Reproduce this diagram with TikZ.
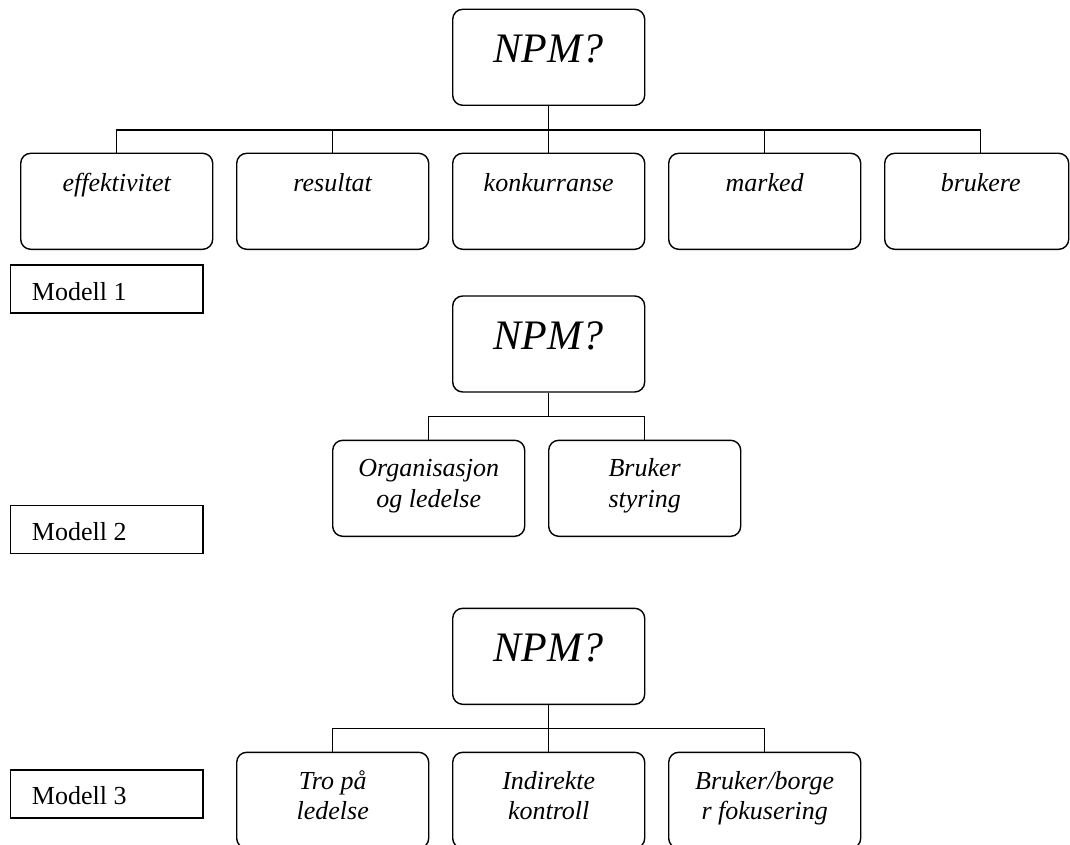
\documentclass[tikz,border=0pt]{standalone}
\usepackage{fontspec}
\setmainfont{Liberation Serif}
\usetikzlibrary{calc}
\begin{document}
\begin{tikzpicture}[x=1pt,y=-1pt,
  rbox/.style={draw, line width=1.4pt, rounded corners=10pt, minimum width=192pt, minimum height=96pt, inner sep=0pt},
  modbox/.style={draw, line width=1.4pt, minimum width=192.7pt, minimum height=48pt, inner sep=0pt},
  toptxt/.style={font=\fontsize{42}{50}\selectfont\itshape, anchor=base, inner sep=0pt},
  lbl/.style={font=\fontsize{26}{31}\selectfont\itshape, anchor=base, inner sep=0pt},
  mtxt/.style={font=\fontsize{26}{31}\selectfont, anchor=base west, inner sep=0pt},
  conn/.style={line width=1.4pt}]
\useasboundingbox (0,0) rectangle (1070,845);
\clip (0,0) rectangle (1070,845);

% ---------- Model 1 ----------
\node[rbox] (n1) at (548.7,57.3) {};
\node[toptxt] at ($(n1.north)+(0,54)$) {NPM?};
\node[rbox] (e) at (116.7,201.3) {};
\node[rbox] (r) at (332.7,201.3) {};
\node[rbox] (k) at (548.7,201.3) {};
\node[rbox] (m) at (764.7,201.3) {};
\node[rbox, minimum width=184pt] (b) at (976.7,201.3) {};
\node[lbl] at ($(e.north)+(0,38.4)$) {effektivitet};
\node[lbl] at ($(r.north)+(0,38.4)$) {resultat};
\node[lbl] at ($(k.north)+(0,38.4)$) {konkurranse};
\node[lbl] at ($(m.north)+(0,38.4)$) {marked};
\node[lbl] at ($(b.north)+(4,38.4)$) {brukere};
\coordinate (bus1) at (548.7,130);
\draw[conn] (n1.south) -- (bus1);
\draw[conn] (e.north) -- (e.north |- bus1) -- ([xshift=4pt]b.north |- bus1) -- ([xshift=4pt]b.north);
\draw[conn] (r.north) -- (r.north |- bus1);
\draw[conn] (k.north) -- (k.north |- bus1);
\draw[conn] (m.north) -- (m.north |- bus1);
\node[modbox] (m1) at (106.65,289) {};
\node[mtxt] at (31.7,300) {Modell 1};

% ---------- Model 2 ----------
\node[rbox] (n2) at (548.7,344) {};
\node[toptxt] at ($(n2.north)+(0,54)$) {NPM?};
\node[rbox] (o) at (428.7,488.3) {};
\node[rbox] (bs) at (644.7,488.3) {};
\node[lbl] at ($(o.north)+(0,36.7)$) {Organisasjon};
\node[lbl] at ($(o.north)+(0,68)$) {og ledelse};
\node[lbl] at ($(bs.north)+(0,36.7)$) {Bruker};
\node[lbl] at ($(bs.north)+(0,68)$) {styring};
\coordinate (bus2) at (548.7,416.7);
\draw[conn] (n2.south) -- (bus2);
\draw[conn] (o.north) -- (o.north |- bus2) -- (bs.north |- bus2) -- (bs.north);
\node[modbox] (m2) at (106.65,529.5) {};
\node[mtxt] at (31.7,540) {Modell 2};

% ---------- Model 3 ----------
\node[rbox] (n3) at (548.7,656.3) {};
\node[toptxt] at ($(n3.north)+(0,54)$) {NPM?};
\node[rbox] (t) at (332.7,800.3) {};
\node[rbox] (i) at (548.7,800.3) {};
\node[rbox] (bb) at (764.7,800.3) {};
\node[lbl] at ($(t.north)+(0,37.7)$) {Tro på};
\node[lbl] at ($(t.north)+(0,67.7)$) {ledelse};
\node[lbl] at ($(i.north)+(0,37.7)$) {Indirekte};
\node[lbl] at ($(i.north)+(0,67.7)$) {kontroll};
\node[lbl] at ($(bb.north)+(0,37.7)$) {Bruker/borge};
\node[lbl] at ($(bb.north)+(0,67.7)$) {r fokusering};
\coordinate (bus3) at (548.7,728.3);
\draw[conn] (n3.south) -- (bus3);
\draw[conn] (t.north) -- (t.north |- bus3) -- (bb.north |- bus3) -- (bb.north);
\draw[conn] (i.north) -- (i.north |- bus3);
\node[modbox] (m3) at (106.65,793.8) {};
\node[mtxt] at (31.7,804) {Modell 3};
\end{tikzpicture}
\end{document}
